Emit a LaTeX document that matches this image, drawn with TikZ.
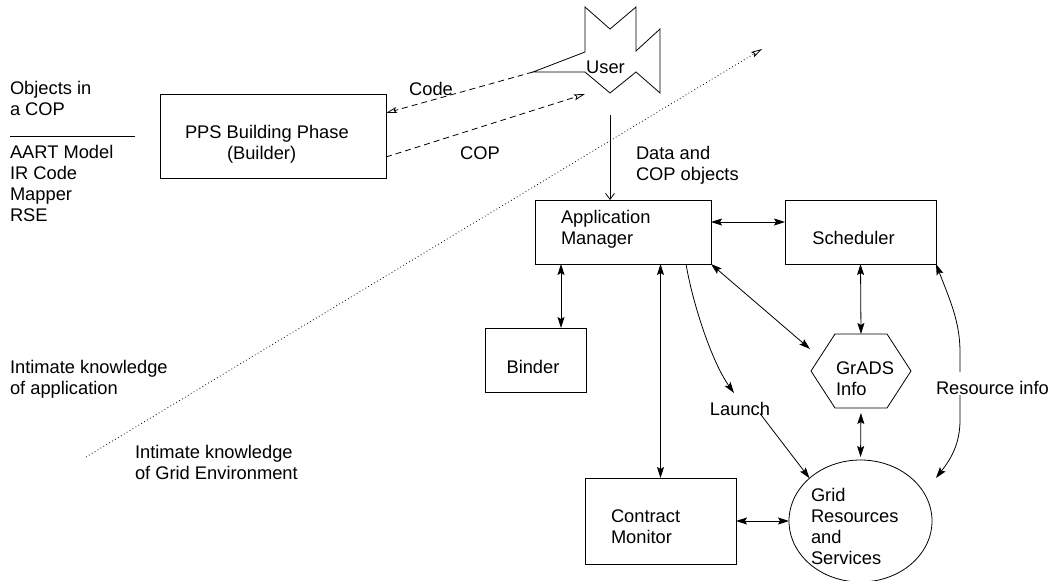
\documentclass[tikz,border=0pt]{standalone}
\usepackage{fontspec}
\setmainfont{Liberation Sans}
\usetikzlibrary{arrows.meta,shapes.geometric,calc}

\begin{document}
\begin{tikzpicture}[x=1pt,y=-1pt,
  font=\fontsize{18.3}{21}\selectfont,
  line width=0.8pt,
  >={Stealth[length=11pt,width=7pt,inset=2pt]},
  box/.style={draw, rectangle, inner sep=0pt, outer sep=0pt},
  txt/.style={inner sep=0pt, outer sep=0pt, align=left, anchor=north west},
  lbl/.style={inner sep=0pt, outer sep=0pt},
  openhead/.style={arrows={-{Stealth[open,length=11pt,width=6pt,inset=2pt]}}},
  barbhead/.style={arrows={-{Straight Barb[length=6pt,width=9pt]}}},
  dashline/.style={dash pattern=on 6pt off 4pt},
  dotline/.style={dash pattern=on 0.8pt off 2.6pt}
]
\useasboundingbox (0,0) rectangle (1053,581);

% --- left-hand legend ---
\node[txt] (objs) at (10,81.5) {Objects in\\a COP};
\draw (10,136) -- (135,136);
\node[txt] (objlist) at (10,145.5) {AART Model\\IR Code\\Mapper\\RSE};
\node[txt] (appknow) at (10,360.5) {Intimate knowledge\\of application};
\node[txt] (gridknow) at (135,445.5) {Intimate knowledge\\of Grid Environment};

% dividing line between the two kinds of knowledge
\coordinate (dotA) at (86,457);
\coordinate (dotB) at (762,49);
\draw[dotline, openhead] (dotA) -- (dotB);

% --- builder ---
\node[box, minimum width=226pt, minimum height=84pt] (pps) at (273,136) {};
\node[txt] (ppstext) at (185,125.5) {PPS Building Phase\\\hspace*{42pt}(Builder)};

% --- user ---
\draw (533,72) -- (585,52) -- (585,7) -- (610,29) -- (636,7) -- (636,51)
      -- (660,29) -- (660,93) -- (636,72) -- (610,93) -- (585,72) -- cycle;
\node[lbl] (user) at (605.5,67) {User};
\coordinate (usertip) at (533,72);
\coordinate (userin) at (585,94);

\draw[dashline, openhead] (usertip) -- ([yshift=-19pt]pps.north east);
\draw[dashline, openhead] ([yshift=21pt]pps.south east) -- (userin);
\node[lbl] (code) at (431,89) {Code};
\node[lbl] (cop) at (480,153) {COP};

% --- application manager and scheduler ---
\node[box, minimum width=176pt, minimum height=64pt] (am) at (623,232) {};
\node[txt] (amtext) at (561,210.5) {Application\\Manager};
\node[box, minimum width=151pt, minimum height=64pt] (sched) at (860.5,232) {};
\node[lbl] (schedtext) at (853.5,238) {Scheduler};

\coordinate (datatop) at (610,115);
\draw[barbhead] (datatop) -- (datatop |- am.north);
\node[txt] (datatext) at (636,146.5) {Data and\\COP objects};

\draw[<->] ([yshift=10pt]am.east) -- ([yshift=10pt]sched.west);

% --- binder ---
\node[box, minimum width=101pt, minimum height=64pt] (binder) at (535.5,360) {};
\node[lbl] (bindertext) at (533,367) {Binder};
\coordinate (bx) at ([xshift=25.5pt]binder.north);
\draw[<->] (bx |- am.south) -- (bx);

% --- GrADS information service ---
\node[inner sep=0pt, outer sep=0pt, minimum width=100pt, minimum height=74pt] (grads) at (861,371) {};
\draw (grads.west) -- ($(grads.north west)+(24,0)$) -- ($(grads.north east)+(-24,0)$)
      -- (grads.east) -- ($(grads.south east)+(-24,0)$) -- ($(grads.south west)+(24,0)$) -- cycle;
\node[txt] (gradstext) at (836,361.5) {GrADS\\Info};
\draw[<->] (sched.south) -- (grads.north);
\draw[<->] (am.south east) -- ([xshift=-1pt,yshift=22pt]grads.west);

% --- contract monitor and grid ---
\node[box, minimum width=151pt, minimum height=86pt] (contract) at (660.5,521) {};
\node[txt] (contracttext) at (611,509.5) {Contract\\Monitor};
\node[draw, ellipse, inner sep=0pt, outer sep=0pt, minimum width=143pt, minimum height=122pt] (grid) at (860.5,521) {};
\node[txt] (gridtext) at (811,488.5) {Grid\\Resources\\and\\Services};

\draw[<->] (contract.north |- am.south) -- (contract.north);
\draw[<->] (contract.east) -- (grid.west);
\draw[<->, shorten <=5pt, shorten >=3pt] (grads.south) -- (grid.north);

% --- launch ---
\node[lbl] (launch) at (740,409) {Launch};
\draw[->] ([xshift=63pt]am.south) .. controls (693,305) and (712,362) .. (734,393);
\draw[->] ([xshift=20pt,yshift=2pt]launch.base) -- (grid.140);

% --- resource information ---
\coordinate (resend) at (936,478);
\draw[<-] (sched.south east) .. controls (950,300) and (960,322) .. (960,352) -- (960,372);
\draw[->] (960,395) -- (960,420) .. controls (960,445) and (950,460) .. (resend);
\node[txt] (restext) at (936,381.5) {Resource info};
\end{tikzpicture}
\end{document}
